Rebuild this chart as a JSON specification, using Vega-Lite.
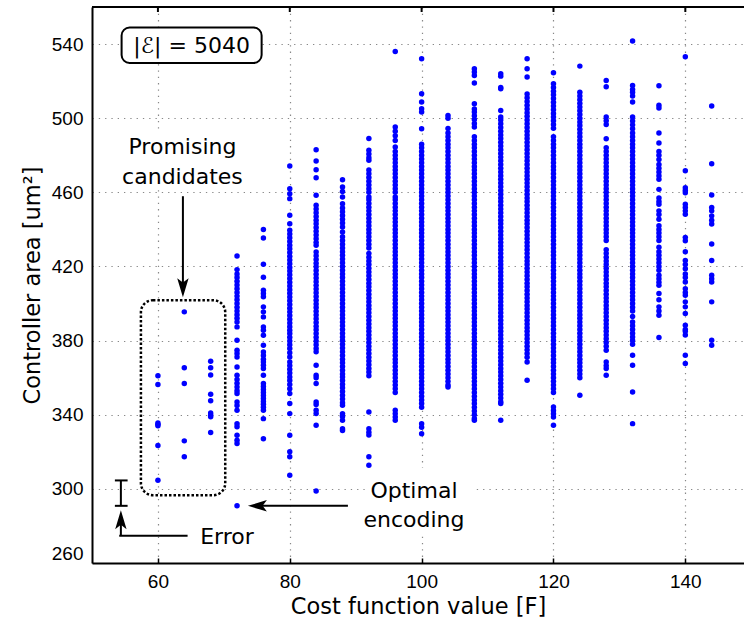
{
"$schema": "https://vega.github.io/schema/vega-lite/v6.json",
"width": 652, "height": 556,
"autosize": {"type": "none"},
"padding": {"left": 92, "top": 7, "right": 0, "bottom": 58},
"background": "white",
"config": {"view": {"stroke": null}, "font": "DejaVu Sans"},
"encoding": {
 "x": {"field": "F", "type": "quantitative", "scale": {"domain": [50, 148.9], "nice": false, "zero": false},
  "axis": {"values": [60,80,100,120,140], "title": "Cost function value [F]", "titleFont": "DejaVu Sans", "titleFontSize": 22.5, "titleFontWeight": "normal", "titleColor": "black", "titlePadding": 4, "labelFont": "Liberation Sans", "labelFontSize": 19, "labelColor": "black", "labelPadding": 14, "labelFlush": false, "tickSize": -5, "tickColor": "black", "tickWidth": 1.5, "domainColor": "black", "domainWidth": 2, "grid": true, "gridColor": "#888888", "gridDash": [1.3, 5], "gridWidth": 1.2}},
 "y": {"field": "area", "type": "quantitative", "scale": {"domain": [260, 560], "nice": false, "zero": false},
  "axis": {"values": [260,300,340,380,420,460,500,540], "title": "Controller area [um²]", "titleFont": "DejaVu Sans", "titleFontSize": 22.5, "titleFontWeight": "normal", "titleColor": "black", "titlePadding": 7, "labelFont": "Liberation Sans", "labelFontSize": 19, "labelColor": "black", "labelPadding": 9, "labelFlush": true, "ticks": false, "domainColor": "black", "domainWidth": 2, "grid": true, "gridColor": "#888888", "gridDash": [1.3, 5], "gridWidth": 1.2}}
},
"layer": [
 {"data": {"values": [{"F":54.23,"F2":73.38,"area":461.3,"area2":492},{"F":91.4,"F2":108,"area":274.9,"area2":311.2}]},
  "mark": {"type": "rect", "fill": "white", "strokeWidth": 0},
  "encoding": {"x2": {"field": "F2"}, "y2": {"field": "area2"}}},
 {"data": {"values": [{"F":54.49,"F2":75.73,"area":529.8,"area2":548.9}]},
  "mark": {"type": "rect", "fill": "white", "stroke": "black", "strokeWidth": 2, "cornerRadius": 8},
  "encoding": {"x2": {"field": "F2"}, "y2": {"field": "area2"}}},
 {"data": {"values": [{"F":57.42,"F2":70.21,"area":296.6,"area2":401.8}]},
  "mark": {"type": "rect", "filled": false, "stroke": "black", "strokeWidth": 2.5, "strokeDash": [2.5, 2], "cornerRadius": 12},
  "encoding": {"x2": {"field": "F2"}, "y2": {"field": "area2"}}},
 {"data": {"values": [
{"F":60,"area":361},{"F":60,"area":356.3},{"F":60,"area":335.6},{"F":60,"area":334.8},{"F":60,"area":334},{"F":60,"area":323.4},{"F":60,"area":304.6},
{"F":64,"area":395.5},{"F":64,"area":365.3},{"F":64,"area":356.9},{"F":64,"area":325.9},{"F":64,"area":317.3},
{"F":68,"area":368.9},{"F":68,"area":365.3},{"F":68,"area":361.4},{"F":68,"area":351.1},{"F":68,"area":347.5},{"F":68,"area":341},{"F":68,"area":339.9},{"F":68,"area":338.9},{"F":68,"area":330.4},
{"F":72,"area":425.7},{"F":72,"area":418.3},{"F":72,"area":416},{"F":72,"area":414},{"F":72,"area":412},{"F":72,"area":410},{"F":72,"area":408},{"F":72,"area":406},{"F":72,"area":404},{"F":72,"area":402},{"F":72,"area":400},{"F":72,"area":398},{"F":72,"area":396},{"F":72,"area":394},{"F":72,"area":392},{"F":72,"area":390},{"F":72,"area":387.4},{"F":72,"area":380.2},{"F":72,"area":374.8},{"F":72,"area":373},{"F":72,"area":371.2},{"F":72,"area":365.8},{"F":72,"area":361.3},{"F":72,"area":359},{"F":72,"area":357},{"F":72,"area":355},{"F":72,"area":353},{"F":72,"area":351.4},{"F":72,"area":346.9},{"F":72,"area":345},{"F":72,"area":342.4},{"F":72,"area":335.2},{"F":72,"area":333.5},{"F":72,"area":328.9},{"F":72,"area":326.2},{"F":72,"area":324.5},{"F":72,"area":290.85},
{"F":76,"area":440},{"F":76,"area":435.4},{"F":76,"area":421.2},{"F":76,"area":414.2},{"F":76,"area":407.2},{"F":76,"area":405.4},{"F":76,"area":403.6},{"F":76,"area":398.2},{"F":76,"area":395.5},{"F":76,"area":392.8},{"F":76,"area":387.4},{"F":76,"area":385.6},{"F":76,"area":382.9},{"F":76,"area":377.5},{"F":76,"area":373.9},{"F":76,"area":372},{"F":76,"area":370},{"F":76,"area":368.5},{"F":76,"area":366.7},{"F":76,"area":365},{"F":76,"area":361.3},{"F":76,"area":356.8},{"F":76,"area":355.2},{"F":76,"area":353.6},{"F":76,"area":352},{"F":76,"area":350.4},{"F":76,"area":348.8},{"F":76,"area":347.2},{"F":76,"area":345.6},{"F":76,"area":344},{"F":76,"area":342.4},{"F":76,"area":337.9},{"F":76,"area":327.1},
{"F":80,"area":474.2},{"F":80,"area":462},{"F":80,"area":459.3},{"F":80,"area":456.6},{"F":80,"area":447.6},{"F":80,"area":443.1},{"F":80,"area":439.5},{"F":80,"area":437.5},{"F":80,"area":435.5},{"F":80,"area":433.5},{"F":80,"area":431.5},{"F":80,"area":429.5},{"F":80,"area":427.5},{"F":80,"area":425.5},{"F":80,"area":423.5},{"F":80,"area":421.5},{"F":80,"area":419.5},{"F":80,"area":417.5},{"F":80,"area":415.5},{"F":80,"area":413.5},{"F":80,"area":411.5},{"F":80,"area":409.5},{"F":80,"area":407.5},{"F":80,"area":405.5},{"F":80,"area":403.5},{"F":80,"area":401.5},{"F":80,"area":399.5},{"F":80,"area":397.5},{"F":80,"area":395.5},{"F":80,"area":393.5},{"F":80,"area":391.5},{"F":80,"area":389.5},{"F":80,"area":387.5},{"F":80,"area":385.6},{"F":80,"area":383.8},{"F":80,"area":381.8},{"F":80,"area":379.8},{"F":80,"area":377.8},{"F":80,"area":375.8},{"F":80,"area":373.5},{"F":80,"area":371.2},{"F":80,"area":368.5},{"F":80,"area":366.5},{"F":80,"area":364.5},{"F":80,"area":362.5},{"F":80,"area":360.4},{"F":80,"area":358.5},{"F":80,"area":356.3},{"F":80,"area":354},{"F":80,"area":351.4},{"F":80,"area":346},{"F":80,"area":340.6},{"F":80,"area":328.9},{"F":80,"area":320},{"F":80,"area":317.3},{"F":80,"area":307.4},
{"F":84,"area":483},{"F":84,"area":476.9},{"F":84,"area":472.2},{"F":84,"area":467.9},{"F":84,"area":458.4},{"F":84,"area":453},{"F":84,"area":451},{"F":84,"area":449},{"F":84,"area":447},{"F":84,"area":445},{"F":84,"area":443},{"F":84,"area":441},{"F":84,"area":439},{"F":84,"area":437},{"F":84,"area":435},{"F":84,"area":433},{"F":84,"area":431.4},{"F":84,"area":427.8},{"F":84,"area":425.8},{"F":84,"area":423.8},{"F":84,"area":421.8},{"F":84,"area":419.8},{"F":84,"area":417.8},{"F":84,"area":415.8},{"F":84,"area":413.8},{"F":84,"area":411.8},{"F":84,"area":409.8},{"F":84,"area":407.8},{"F":84,"area":405.8},{"F":84,"area":403.8},{"F":84,"area":401.8},{"F":84,"area":399.8},{"F":84,"area":397.8},{"F":84,"area":395.8},{"F":84,"area":393.8},{"F":84,"area":391.8},{"F":84,"area":389.8},{"F":84,"area":387.8},{"F":84,"area":385.8},{"F":84,"area":383.8},{"F":84,"area":381.8},{"F":84,"area":379.8},{"F":84,"area":377.8},{"F":84,"area":375.8},{"F":84,"area":374},{"F":84,"area":366.7},{"F":84,"area":361.3},{"F":84,"area":360},{"F":84,"area":356.8},{"F":84,"area":346.9},{"F":84,"area":345.5},{"F":84,"area":342.4},{"F":84,"area":340.7},{"F":84,"area":334.3},{"F":84,"area":298.9},
{"F":88,"area":466.8},{"F":88,"area":462.9},{"F":88,"area":460.5},{"F":88,"area":457.5},{"F":88,"area":453.9},{"F":88,"area":451.5},{"F":88,"area":449.5},{"F":88,"area":447.5},{"F":88,"area":445.5},{"F":88,"area":443.5},{"F":88,"area":441.3},{"F":88,"area":438.6},{"F":88,"area":436},{"F":88,"area":434},{"F":88,"area":432},{"F":88,"area":430},{"F":88,"area":428},{"F":88,"area":426},{"F":88,"area":424},{"F":88,"area":422},{"F":88,"area":420},{"F":88,"area":418},{"F":88,"area":416},{"F":88,"area":414},{"F":88,"area":412},{"F":88,"area":410},{"F":88,"area":408},{"F":88,"area":406},{"F":88,"area":404},{"F":88,"area":402},{"F":88,"area":400},{"F":88,"area":398},{"F":88,"area":396},{"F":88,"area":394},{"F":88,"area":392},{"F":88,"area":390},{"F":88,"area":388},{"F":88,"area":386},{"F":88,"area":384},{"F":88,"area":382},{"F":88,"area":380},{"F":88,"area":378},{"F":88,"area":376},{"F":88,"area":374},{"F":88,"area":372},{"F":88,"area":370},{"F":88,"area":368},{"F":88,"area":366},{"F":88,"area":364},{"F":88,"area":362},{"F":88,"area":360.4},{"F":88,"area":358.5},{"F":88,"area":356.5},{"F":88,"area":354.5},{"F":88,"area":352.5},{"F":88,"area":350.5},{"F":88,"area":348.5},{"F":88,"area":346.5},{"F":88,"area":345.1},{"F":88,"area":340.6},{"F":88,"area":339},{"F":88,"area":337},{"F":88,"area":332.5},{"F":88,"area":331.5},
{"F":92,"area":489},{"F":92,"area":482.7},{"F":92,"area":480.7},{"F":92,"area":478.7},{"F":92,"area":477.3},{"F":92,"area":472},{"F":92,"area":470},{"F":92,"area":468},{"F":92,"area":466},{"F":92,"area":464},{"F":92,"area":462},{"F":92,"area":460},{"F":92,"area":457.5},{"F":92,"area":456},{"F":92,"area":454},{"F":92,"area":452},{"F":92,"area":450},{"F":92,"area":448},{"F":92,"area":446},{"F":92,"area":444},{"F":92,"area":442},{"F":92,"area":440},{"F":92,"area":438},{"F":92,"area":436},{"F":92,"area":434},{"F":92,"area":432},{"F":92,"area":430},{"F":92,"area":427},{"F":92,"area":425},{"F":92,"area":423},{"F":92,"area":421},{"F":92,"area":419},{"F":92,"area":417},{"F":92,"area":415},{"F":92,"area":413},{"F":92,"area":411},{"F":92,"area":409},{"F":92,"area":407},{"F":92,"area":405},{"F":92,"area":403},{"F":92,"area":401},{"F":92,"area":399},{"F":92,"area":397},{"F":92,"area":395},{"F":92,"area":393},{"F":92,"area":391},{"F":92,"area":389},{"F":92,"area":387},{"F":92,"area":385},{"F":92,"area":383},{"F":92,"area":381},{"F":92,"area":379},{"F":92,"area":377},{"F":92,"area":375},{"F":92,"area":373},{"F":92,"area":371},{"F":92,"area":369},{"F":92,"area":367},{"F":92,"area":365},{"F":92,"area":363},{"F":92,"area":361},{"F":92,"area":341.5},{"F":92,"area":332.5},{"F":92,"area":330.5},{"F":92,"area":329},{"F":92,"area":317.3},{"F":92,"area":312.8},
{"F":96,"area":536},{"F":96,"area":495.2},{"F":96,"area":493},{"F":96,"area":490.5},{"F":96,"area":488},{"F":96,"area":484.4},{"F":96,"area":482},{"F":96,"area":480},{"F":96,"area":478},{"F":96,"area":476},{"F":96,"area":474},{"F":96,"area":472},{"F":96,"area":470},{"F":96,"area":468},{"F":96,"area":466},{"F":96,"area":464},{"F":96,"area":462},{"F":96,"area":460},{"F":96,"area":457.5},{"F":96,"area":456},{"F":96,"area":454},{"F":96,"area":452},{"F":96,"area":450},{"F":96,"area":448},{"F":96,"area":446},{"F":96,"area":444},{"F":96,"area":442},{"F":96,"area":440},{"F":96,"area":438},{"F":96,"area":436},{"F":96,"area":434},{"F":96,"area":432},{"F":96,"area":430},{"F":96,"area":428},{"F":96,"area":426},{"F":96,"area":424},{"F":96,"area":422},{"F":96,"area":420},{"F":96,"area":418},{"F":96,"area":416},{"F":96,"area":414},{"F":96,"area":412},{"F":96,"area":410},{"F":96,"area":408},{"F":96,"area":406},{"F":96,"area":404},{"F":96,"area":402},{"F":96,"area":400},{"F":96,"area":398},{"F":96,"area":396},{"F":96,"area":394},{"F":96,"area":392},{"F":96,"area":390},{"F":96,"area":388},{"F":96,"area":386},{"F":96,"area":384},{"F":96,"area":382},{"F":96,"area":380},{"F":96,"area":378},{"F":96,"area":376},{"F":96,"area":374},{"F":96,"area":372},{"F":96,"area":370},{"F":96,"area":368},{"F":96,"area":366},{"F":96,"area":364},{"F":96,"area":362},{"F":96,"area":360},{"F":96,"area":358},{"F":96,"area":356},{"F":96,"area":354},{"F":96,"area":352},{"F":96,"area":342.4},{"F":96,"area":340.6},{"F":96,"area":338.8},{"F":96,"area":337},
{"F":100,"area":532.1},{"F":100,"area":513.2},{"F":100,"area":508.7},{"F":100,"area":505.1},{"F":100,"area":503.3},{"F":100,"area":494.3},{"F":100,"area":486},{"F":100,"area":484},{"F":100,"area":482},{"F":100,"area":480},{"F":100,"area":478},{"F":100,"area":476},{"F":100,"area":474},{"F":100,"area":472},{"F":100,"area":470},{"F":100,"area":468},{"F":100,"area":466},{"F":100,"area":464},{"F":100,"area":462},{"F":100,"area":460},{"F":100,"area":458},{"F":100,"area":456},{"F":100,"area":454},{"F":100,"area":452},{"F":100,"area":450},{"F":100,"area":448},{"F":100,"area":446},{"F":100,"area":444},{"F":100,"area":442},{"F":100,"area":440},{"F":100,"area":438},{"F":100,"area":436},{"F":100,"area":434},{"F":100,"area":432},{"F":100,"area":430},{"F":100,"area":428},{"F":100,"area":426},{"F":100,"area":424},{"F":100,"area":422},{"F":100,"area":420},{"F":100,"area":418},{"F":100,"area":416},{"F":100,"area":414},{"F":100,"area":412},{"F":100,"area":410},{"F":100,"area":408},{"F":100,"area":406},{"F":100,"area":404},{"F":100,"area":402},{"F":100,"area":400},{"F":100,"area":398},{"F":100,"area":396},{"F":100,"area":394},{"F":100,"area":392},{"F":100,"area":390},{"F":100,"area":388},{"F":100,"area":386},{"F":100,"area":384},{"F":100,"area":382},{"F":100,"area":380},{"F":100,"area":378},{"F":100,"area":376},{"F":100,"area":374},{"F":100,"area":372},{"F":100,"area":370},{"F":100,"area":368},{"F":100,"area":366},{"F":100,"area":364},{"F":100,"area":362},{"F":100,"area":360},{"F":100,"area":358},{"F":100,"area":356},{"F":100,"area":354},{"F":100,"area":352},{"F":100,"area":350},{"F":100,"area":348},{"F":100,"area":346},{"F":100,"area":344},{"F":100,"area":335.2},{"F":100,"area":333.3},{"F":100,"area":329.8},
{"F":104,"area":501.5},{"F":104,"area":500},{"F":104,"area":494.5},{"F":104,"area":492},{"F":104,"area":490},{"F":104,"area":488},{"F":104,"area":486},{"F":104,"area":484},{"F":104,"area":482},{"F":104,"area":480},{"F":104,"area":478},{"F":104,"area":476},{"F":104,"area":474},{"F":104,"area":472},{"F":104,"area":470},{"F":104,"area":468},{"F":104,"area":466},{"F":104,"area":464},{"F":104,"area":462},{"F":104,"area":460},{"F":104,"area":458},{"F":104,"area":456},{"F":104,"area":454},{"F":104,"area":452},{"F":104,"area":450},{"F":104,"area":448},{"F":104,"area":446},{"F":104,"area":444},{"F":104,"area":442},{"F":104,"area":440},{"F":104,"area":438},{"F":104,"area":436},{"F":104,"area":434},{"F":104,"area":432},{"F":104,"area":430},{"F":104,"area":428},{"F":104,"area":426},{"F":104,"area":424},{"F":104,"area":422},{"F":104,"area":420},{"F":104,"area":418},{"F":104,"area":416},{"F":104,"area":414},{"F":104,"area":412},{"F":104,"area":410},{"F":104,"area":408},{"F":104,"area":406},{"F":104,"area":404},{"F":104,"area":402},{"F":104,"area":400},{"F":104,"area":398},{"F":104,"area":396},{"F":104,"area":394},{"F":104,"area":392},{"F":104,"area":390},{"F":104,"area":388},{"F":104,"area":386},{"F":104,"area":384},{"F":104,"area":382},{"F":104,"area":380},{"F":104,"area":378},{"F":104,"area":376},{"F":104,"area":374},{"F":104,"area":372},{"F":104,"area":370},{"F":104,"area":368},{"F":104,"area":366},{"F":104,"area":364},{"F":104,"area":362},{"F":104,"area":360},{"F":104,"area":358},{"F":104,"area":356},{"F":104,"area":355},
{"F":108,"area":526.7},{"F":108,"area":524.9},{"F":108,"area":523.1},{"F":108,"area":519},{"F":108,"area":507.8},{"F":108,"area":505},{"F":108,"area":503.3},{"F":108,"area":501.3},{"F":108,"area":499.3},{"F":108,"area":497.2},{"F":108,"area":495.2},{"F":108,"area":490},{"F":108,"area":488},{"F":108,"area":486},{"F":108,"area":484},{"F":108,"area":482},{"F":108,"area":480},{"F":108,"area":478},{"F":108,"area":476},{"F":108,"area":474},{"F":108,"area":472},{"F":108,"area":470},{"F":108,"area":468},{"F":108,"area":466},{"F":108,"area":464},{"F":108,"area":462},{"F":108,"area":460},{"F":108,"area":458},{"F":108,"area":456},{"F":108,"area":454},{"F":108,"area":452},{"F":108,"area":450},{"F":108,"area":448},{"F":108,"area":446},{"F":108,"area":444},{"F":108,"area":442},{"F":108,"area":440},{"F":108,"area":438},{"F":108,"area":436},{"F":108,"area":434},{"F":108,"area":432},{"F":108,"area":430},{"F":108,"area":428},{"F":108,"area":426},{"F":108,"area":424},{"F":108,"area":422},{"F":108,"area":420},{"F":108,"area":418},{"F":108,"area":416},{"F":108,"area":414},{"F":108,"area":412},{"F":108,"area":410},{"F":108,"area":408},{"F":108,"area":406},{"F":108,"area":404},{"F":108,"area":402},{"F":108,"area":400},{"F":108,"area":398},{"F":108,"area":396},{"F":108,"area":394},{"F":108,"area":392},{"F":108,"area":390},{"F":108,"area":388},{"F":108,"area":386},{"F":108,"area":384},{"F":108,"area":382},{"F":108,"area":380},{"F":108,"area":378},{"F":108,"area":376},{"F":108,"area":374},{"F":108,"area":372},{"F":108,"area":370},{"F":108,"area":368},{"F":108,"area":366},{"F":108,"area":364},{"F":108,"area":362},{"F":108,"area":360},{"F":108,"area":358},{"F":108,"area":356},{"F":108,"area":354},{"F":108,"area":352},{"F":108,"area":350},{"F":108,"area":348},{"F":108,"area":346},{"F":108,"area":344},{"F":108,"area":342},{"F":108,"area":340},{"F":108,"area":338},{"F":108,"area":337},
{"F":112,"area":524},{"F":112,"area":522.7},{"F":112,"area":516.6},{"F":112,"area":515.9},{"F":112,"area":504.2},{"F":112,"area":500.6},{"F":112,"area":499},{"F":112,"area":497},{"F":112,"area":495},{"F":112,"area":493},{"F":112,"area":491},{"F":112,"area":489},{"F":112,"area":487},{"F":112,"area":485},{"F":112,"area":483},{"F":112,"area":481},{"F":112,"area":479},{"F":112,"area":477},{"F":112,"area":475},{"F":112,"area":473},{"F":112,"area":471},{"F":112,"area":469},{"F":112,"area":467},{"F":112,"area":465},{"F":112,"area":463},{"F":112,"area":461},{"F":112,"area":459},{"F":112,"area":457},{"F":112,"area":455},{"F":112,"area":453},{"F":112,"area":451},{"F":112,"area":449},{"F":112,"area":447},{"F":112,"area":445},{"F":112,"area":443},{"F":112,"area":441},{"F":112,"area":439},{"F":112,"area":437},{"F":112,"area":435},{"F":112,"area":433},{"F":112,"area":431},{"F":112,"area":429},{"F":112,"area":427},{"F":112,"area":425},{"F":112,"area":423},{"F":112,"area":421},{"F":112,"area":419},{"F":112,"area":417},{"F":112,"area":415},{"F":112,"area":413},{"F":112,"area":411},{"F":112,"area":409},{"F":112,"area":407},{"F":112,"area":405},{"F":112,"area":403},{"F":112,"area":401},{"F":112,"area":399},{"F":112,"area":397},{"F":112,"area":395},{"F":112,"area":393},{"F":112,"area":391},{"F":112,"area":389},{"F":112,"area":387},{"F":112,"area":385},{"F":112,"area":383},{"F":112,"area":381},{"F":112,"area":379},{"F":112,"area":377},{"F":112,"area":375},{"F":112,"area":373},{"F":112,"area":371},{"F":112,"area":369},{"F":112,"area":367},{"F":112,"area":365},{"F":112,"area":363},{"F":112,"area":361},{"F":112,"area":359},{"F":112,"area":357},{"F":112,"area":355},{"F":112,"area":353},{"F":112,"area":351},{"F":112,"area":349},{"F":112,"area":347},{"F":112,"area":346},{"F":112,"area":337},
{"F":116,"area":532.1},{"F":116,"area":526.7},{"F":116,"area":522.2},{"F":116,"area":513},{"F":116,"area":511},{"F":116,"area":509},{"F":116,"area":507},{"F":116,"area":505},{"F":116,"area":503},{"F":116,"area":501},{"F":116,"area":499},{"F":116,"area":497},{"F":116,"area":495},{"F":116,"area":493},{"F":116,"area":491},{"F":116,"area":489},{"F":116,"area":487},{"F":116,"area":485},{"F":116,"area":483},{"F":116,"area":481},{"F":116,"area":479},{"F":116,"area":477},{"F":116,"area":475},{"F":116,"area":473},{"F":116,"area":471},{"F":116,"area":469},{"F":116,"area":467},{"F":116,"area":465},{"F":116,"area":463},{"F":116,"area":461},{"F":116,"area":459},{"F":116,"area":457},{"F":116,"area":455},{"F":116,"area":453},{"F":116,"area":451},{"F":116,"area":449},{"F":116,"area":447},{"F":116,"area":445},{"F":116,"area":443},{"F":116,"area":441},{"F":116,"area":439},{"F":116,"area":437},{"F":116,"area":435},{"F":116,"area":433},{"F":116,"area":431},{"F":116,"area":429},{"F":116,"area":427},{"F":116,"area":425},{"F":116,"area":423},{"F":116,"area":421},{"F":116,"area":419},{"F":116,"area":417},{"F":116,"area":415},{"F":116,"area":413},{"F":116,"area":411},{"F":116,"area":409},{"F":116,"area":407},{"F":116,"area":405},{"F":116,"area":403},{"F":116,"area":401},{"F":116,"area":399},{"F":116,"area":397},{"F":116,"area":395},{"F":116,"area":393},{"F":116,"area":391},{"F":116,"area":389},{"F":116,"area":387},{"F":116,"area":385},{"F":116,"area":383},{"F":116,"area":381},{"F":116,"area":379},{"F":116,"area":377},{"F":116,"area":375},{"F":116,"area":373},{"F":116,"area":371},{"F":116,"area":368.5},{"F":116,"area":358.6},
{"F":120,"area":524.5},{"F":120,"area":518.6},{"F":120,"area":516.6},{"F":120,"area":514.6},{"F":120,"area":512.6},{"F":120,"area":510.6},{"F":120,"area":508.6},{"F":120,"area":506.6},{"F":120,"area":504.6},{"F":120,"area":502.6},{"F":120,"area":500.6},{"F":120,"area":498.6},{"F":120,"area":496.6},{"F":120,"area":494.6},{"F":120,"area":490},{"F":120,"area":488},{"F":120,"area":486},{"F":120,"area":484},{"F":120,"area":482},{"F":120,"area":480},{"F":120,"area":478},{"F":120,"area":476},{"F":120,"area":474},{"F":120,"area":472},{"F":120,"area":470},{"F":120,"area":468},{"F":120,"area":466},{"F":120,"area":464},{"F":120,"area":462},{"F":120,"area":460},{"F":120,"area":458},{"F":120,"area":456},{"F":120,"area":454},{"F":120,"area":452},{"F":120,"area":450},{"F":120,"area":448},{"F":120,"area":446},{"F":120,"area":444},{"F":120,"area":442},{"F":120,"area":440},{"F":120,"area":438},{"F":120,"area":436},{"F":120,"area":434},{"F":120,"area":432},{"F":120,"area":430},{"F":120,"area":428},{"F":120,"area":426},{"F":120,"area":424},{"F":120,"area":422},{"F":120,"area":420},{"F":120,"area":418},{"F":120,"area":416},{"F":120,"area":414},{"F":120,"area":412},{"F":120,"area":410},{"F":120,"area":408},{"F":120,"area":406},{"F":120,"area":404},{"F":120,"area":402},{"F":120,"area":400},{"F":120,"area":398},{"F":120,"area":396},{"F":120,"area":394},{"F":120,"area":392},{"F":120,"area":390},{"F":120,"area":388},{"F":120,"area":386},{"F":120,"area":384},{"F":120,"area":382},{"F":120,"area":380},{"F":120,"area":378},{"F":120,"area":376},{"F":120,"area":374},{"F":120,"area":372},{"F":120,"area":370},{"F":120,"area":368},{"F":120,"area":366},{"F":120,"area":364},{"F":120,"area":362},{"F":120,"area":360},{"F":120,"area":358},{"F":120,"area":356},{"F":120,"area":354},{"F":120,"area":352},{"F":120,"area":344.2},{"F":120,"area":342.3},{"F":120,"area":340.5},{"F":120,"area":338.8},{"F":120,"area":334.3},
{"F":124,"area":528.1},{"F":124,"area":514},{"F":124,"area":512},{"F":124,"area":510},{"F":124,"area":508},{"F":124,"area":506},{"F":124,"area":504},{"F":124,"area":502},{"F":124,"area":500},{"F":124,"area":498},{"F":124,"area":496},{"F":124,"area":494},{"F":124,"area":492},{"F":124,"area":490},{"F":124,"area":488},{"F":124,"area":486},{"F":124,"area":484},{"F":124,"area":482},{"F":124,"area":480},{"F":124,"area":478},{"F":124,"area":476},{"F":124,"area":474},{"F":124,"area":472},{"F":124,"area":470},{"F":124,"area":468},{"F":124,"area":466},{"F":124,"area":464},{"F":124,"area":462},{"F":124,"area":460},{"F":124,"area":458},{"F":124,"area":456},{"F":124,"area":454},{"F":124,"area":452},{"F":124,"area":450},{"F":124,"area":448},{"F":124,"area":446},{"F":124,"area":444},{"F":124,"area":442},{"F":124,"area":440},{"F":124,"area":438},{"F":124,"area":436},{"F":124,"area":434},{"F":124,"area":432},{"F":124,"area":430},{"F":124,"area":428},{"F":124,"area":426},{"F":124,"area":424},{"F":124,"area":422},{"F":124,"area":420},{"F":124,"area":418},{"F":124,"area":416},{"F":124,"area":414},{"F":124,"area":412},{"F":124,"area":410},{"F":124,"area":408},{"F":124,"area":406},{"F":124,"area":404},{"F":124,"area":402},{"F":124,"area":400},{"F":124,"area":398},{"F":124,"area":396},{"F":124,"area":394},{"F":124,"area":392},{"F":124,"area":390},{"F":124,"area":388},{"F":124,"area":386},{"F":124,"area":384},{"F":124,"area":382},{"F":124,"area":380},{"F":124,"area":378},{"F":124,"area":376},{"F":124,"area":374},{"F":124,"area":372},{"F":124,"area":370},{"F":124,"area":368},{"F":124,"area":366},{"F":124,"area":364},{"F":124,"area":362},{"F":124,"area":360},{"F":124,"area":350.5},
{"F":128,"area":520.4},{"F":128,"area":517},{"F":128,"area":500.6},{"F":128,"area":498.6},{"F":128,"area":496.6},{"F":128,"area":488.9},{"F":128,"area":484},{"F":128,"area":482},{"F":128,"area":480},{"F":128,"area":478},{"F":128,"area":476},{"F":128,"area":474},{"F":128,"area":472},{"F":128,"area":470},{"F":128,"area":468},{"F":128,"area":466},{"F":128,"area":464},{"F":128,"area":462},{"F":128,"area":460},{"F":128,"area":458},{"F":128,"area":456},{"F":128,"area":454},{"F":128,"area":452},{"F":128,"area":450},{"F":128,"area":448},{"F":128,"area":446},{"F":128,"area":444},{"F":128,"area":442},{"F":128,"area":440},{"F":128,"area":438},{"F":128,"area":436},{"F":128,"area":434},{"F":128,"area":429},{"F":128,"area":427},{"F":128,"area":425},{"F":128,"area":423},{"F":128,"area":421},{"F":128,"area":419},{"F":128,"area":417},{"F":128,"area":415},{"F":128,"area":413},{"F":128,"area":411},{"F":128,"area":409},{"F":128,"area":407},{"F":128,"area":405},{"F":128,"area":403},{"F":128,"area":401},{"F":128,"area":399},{"F":128,"area":397},{"F":128,"area":395},{"F":128,"area":393},{"F":128,"area":391},{"F":128,"area":389},{"F":128,"area":387},{"F":128,"area":385},{"F":128,"area":383},{"F":128,"area":381},{"F":128,"area":379},{"F":128,"area":377},{"F":128,"area":374.8},{"F":128,"area":368.5},{"F":128,"area":366.5},{"F":128,"area":364.9},{"F":128,"area":361.3},
{"F":132,"area":541.6},{"F":132,"area":517.7},{"F":132,"area":515.5},{"F":132,"area":514},{"F":132,"area":512},{"F":132,"area":508.7},{"F":132,"area":500.6},{"F":132,"area":498.5},{"F":132,"area":496.4},{"F":132,"area":494.3},{"F":132,"area":492},{"F":132,"area":490},{"F":132,"area":488},{"F":132,"area":486},{"F":132,"area":484},{"F":132,"area":482},{"F":132,"area":480},{"F":132,"area":478},{"F":132,"area":476},{"F":132,"area":474},{"F":132,"area":472},{"F":132,"area":470},{"F":132,"area":468},{"F":132,"area":466},{"F":132,"area":464},{"F":132,"area":462},{"F":132,"area":460},{"F":132,"area":458},{"F":132,"area":456},{"F":132,"area":454},{"F":132,"area":452},{"F":132,"area":450},{"F":132,"area":448},{"F":132,"area":446},{"F":132,"area":444},{"F":132,"area":442},{"F":132,"area":440},{"F":132,"area":438},{"F":132,"area":436},{"F":132,"area":434},{"F":132,"area":432},{"F":132,"area":430},{"F":132,"area":428},{"F":132,"area":426},{"F":132,"area":424},{"F":132,"area":422},{"F":132,"area":420},{"F":132,"area":418},{"F":132,"area":416},{"F":132,"area":414},{"F":132,"area":412},{"F":132,"area":410},{"F":132,"area":408},{"F":132,"area":406},{"F":132,"area":404},{"F":132,"area":402},{"F":132,"area":400},{"F":132,"area":398},{"F":132,"area":396},{"F":132,"area":393},{"F":132,"area":390},{"F":132,"area":388},{"F":132,"area":386},{"F":132,"area":384},{"F":132,"area":382},{"F":132,"area":380},{"F":132,"area":378},{"F":132,"area":372.1},{"F":132,"area":366.7},{"F":132,"area":352.3},{"F":132,"area":335.2},
{"F":136,"area":517.5},{"F":136,"area":507},{"F":136,"area":505.5},{"F":136,"area":492},{"F":136,"area":486.6},{"F":136,"area":482},{"F":136,"area":480},{"F":136,"area":477.7},{"F":136,"area":475},{"F":136,"area":473},{"F":136,"area":471},{"F":136,"area":469},{"F":136,"area":467},{"F":136,"area":461.6},{"F":136,"area":457},{"F":136,"area":455},{"F":136,"area":453.6},{"F":136,"area":450},{"F":136,"area":448},{"F":136,"area":445.5},{"F":136,"area":442},{"F":136,"area":440},{"F":136,"area":438},{"F":136,"area":436},{"F":136,"area":434},{"F":136,"area":430.4},{"F":136,"area":428},{"F":136,"area":426},{"F":136,"area":424},{"F":136,"area":422},{"F":136,"area":420},{"F":136,"area":418},{"F":136,"area":415.2},{"F":136,"area":413.4},{"F":136,"area":411.5},{"F":136,"area":409.8},{"F":136,"area":405.4},{"F":136,"area":402},{"F":136,"area":398.2},{"F":136,"area":396},{"F":136,"area":393.7},{"F":136,"area":381.7},
{"F":140,"area":533.2},{"F":140,"area":471.6},{"F":140,"area":462.5},{"F":140,"area":461},{"F":140,"area":459.8},{"F":140,"area":453.6},{"F":140,"area":451.8},{"F":140,"area":450},{"F":140,"area":448.2},{"F":140,"area":435.7},{"F":140,"area":433.9},{"F":140,"area":428},{"F":140,"area":423.2},{"F":140,"area":421},{"F":140,"area":418.8},{"F":140,"area":416},{"F":140,"area":414},{"F":140,"area":411.6},{"F":140,"area":408},{"F":140,"area":406},{"F":140,"area":404.5},{"F":140,"area":400.9},{"F":140,"area":398.2},{"F":140,"area":394.6},{"F":140,"area":388.3},{"F":140,"area":386},{"F":140,"area":385},{"F":140,"area":383},{"F":140,"area":372.1},{"F":140,"area":367.7},
{"F":144,"area":506.6},{"F":144,"area":475.4},{"F":144,"area":458.6},{"F":144,"area":451.8},{"F":144,"area":450},{"F":144,"area":447.3},{"F":144,"area":445},{"F":144,"area":442.9},{"F":144,"area":432.1},{"F":144,"area":423.2},{"F":144,"area":415.2},{"F":144,"area":413.4},{"F":144,"area":411.6},{"F":144,"area":400.9},{"F":144,"area":380.2},{"F":144,"area":377.5}
  ]},
  "mark": {"type": "circle", "size": 30, "color": "#0000ff", "opacity": 1}},
 {"data": {"values": [
   {"F":63.79,"F2":63.79,"area":457.9,"area2":409},
   {"F":88.82,"F2":75.5,"area":290.85,"area2":290.85},
   {"F":54.38,"F2":54.38,"area":274.7,"area2":284},
   {"F":54.13,"F2":64.5,"area":274.7,"area2":274.7},
   {"F":54.38,"F2":54.38,"area":290.85,"area2":304.55},
   {"F":53.47,"F2":55.4,"area":304.55,"area2":304.55},
   {"F":53.47,"F2":55.4,"area":290.85,"area2":290.85},
   {"F":50,"F2":148.9,"area":560,"area2":560},
   {"F":60,"F2":60,"area":560,"area2":557.3},
   {"F":80,"F2":80,"area":560,"area2":557.3},
   {"F":100,"F2":100,"area":560,"area2":557.3},
   {"F":120,"F2":120,"area":560,"area2":557.3},
   {"F":140,"F2":140,"area":560,"area2":557.3}
  ]},
  "mark": {"type": "rule", "color": "black", "strokeWidth": 2},
  "encoding": {"x2": {"field": "F2"}, "y2": {"field": "area2"}}},
 {"data": {"values": [
   {"F":63.79,"area":408.5,"dir":"down"},
   {"F":75.09,"area":290.85,"dir":"left"},
   {"F":54.38,"area":283.4,"dir":"up"}
  ]},
  "mark": {"type": "point", "filled": true, "color": "black", "opacity": 1, "size": 361, "strokeWidth": 0},
  "encoding": {"shape": {"field": "dir", "type": "nominal", "legend": null,
    "scale": {"domain": ["down","left","up"], "range": ["M0,1L-0.6,-1L0,-0.55L0.6,-1Z", "M-1,0L1,-0.6L0.55,0L1,0.6Z", "M0,-1L-0.6,1L0,0.55L0.6,1Z"]}}}},
 {"data": {"values": [
   {"F":65.11,"area":535.3,"label":"|ℰ| = 5040"},
   {"F":63.72,"area":480.55,"label":"Promising"},
   {"F":63.72,"area":464.7,"label":"candidates"},
   {"F":98.84,"area":295.2,"label":"Optimal"},
   {"F":98.84,"area":279.5,"label":"encoding"},
   {"F":70.47,"area":270.15,"label":"Error"}
  ]},
  "mark": {"type": "text", "font": "DejaVu Sans", "fontSize": 22, "color": "black", "align": "center", "baseline": "alphabetic"},
  "encoding": {"text": {"field": "label"}}}
]
}
